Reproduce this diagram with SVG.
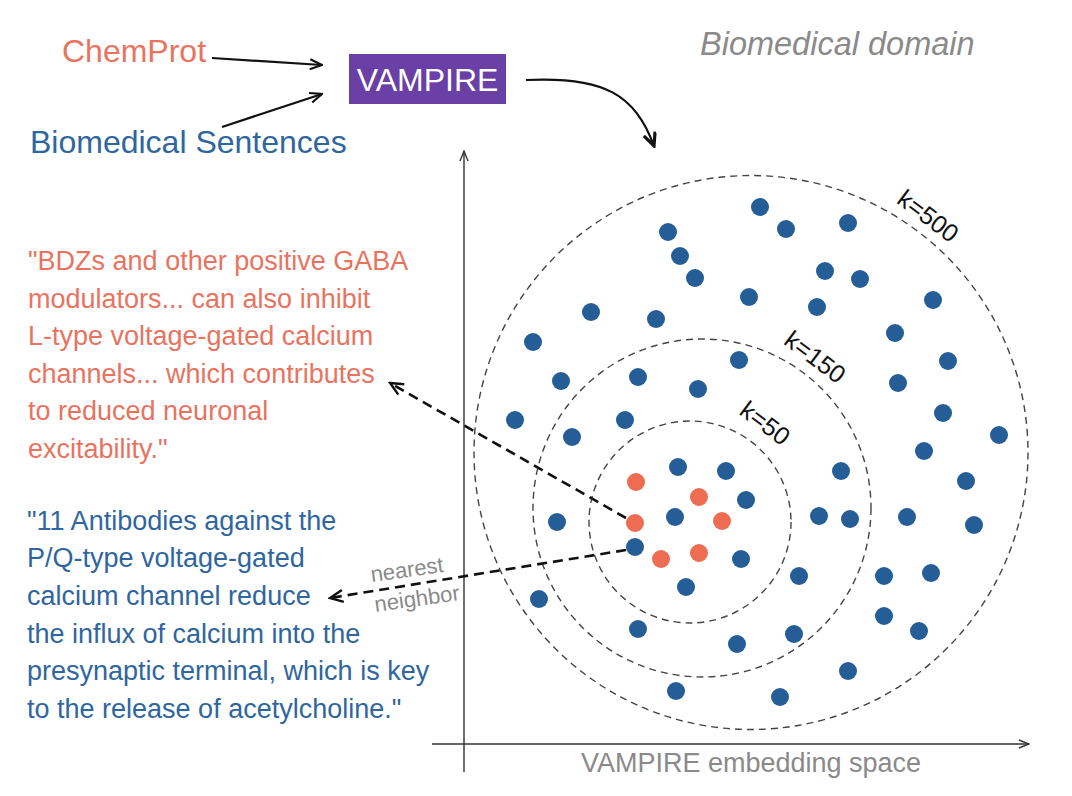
<svg xmlns="http://www.w3.org/2000/svg" width="1072" height="796" viewBox="0 0 1072 796">
<style>
text { font-family: "Liberation Sans", Arial, sans-serif; }
.orange { fill: #E8735F; font-size: 27px; }
.blue { fill: #2F66A0; font-size: 27px; }
.gray { fill: #8A8A8A; }
.bd { fill: #255D96; }
.rd { fill: #EE6C52; }
.ring { fill: none; stroke: #444; stroke-width: 1.4; stroke-dasharray: 7 5; }
.klab { fill: #111; font-size: 25px; }
.axis { fill: none; stroke: #333; stroke-width: 1.4; }
.solid { fill: none; stroke: #111; stroke-width: 2.2; }
.dash { fill: none; stroke: #111; stroke-width: 2.6; stroke-dasharray: 10 6; }
</style>
<defs>
<marker id="ah" viewBox="0 0 14 12" refX="13" refY="6" markerWidth="14" markerHeight="12" markerUnits="userSpaceOnUse" orient="auto">
<path d="M1,1 L13,6 L1,11" fill="none" stroke="#111" stroke-width="2.2" stroke-dasharray="none"/>
</marker>
<marker id="ahc" viewBox="0 0 16 14" refX="14" refY="7" markerWidth="16" markerHeight="14" markerUnits="userSpaceOnUse" orient="auto">
<path d="M1,1 L14,7 L1,13" fill="none" stroke="#111" stroke-width="3.2" stroke-dasharray="none"/>
</marker>
<marker id="ahd" viewBox="0 0 16 14" refX="14" refY="7" markerWidth="16" markerHeight="14" markerUnits="userSpaceOnUse" orient="auto">
<path d="M1,1 L14,7 L1,13" fill="none" stroke="#111" stroke-width="2.4" stroke-dasharray="none"/>
</marker>
<marker id="aha" viewBox="0 0 12 10" refX="11" refY="5" markerWidth="12" markerHeight="10" markerUnits="userSpaceOnUse" orient="auto">
<path d="M1,1 L11,5 L1,9" fill="none" stroke="#333" stroke-width="1.4" stroke-dasharray="none"/>
</marker>
</defs>
<rect width="1072" height="796" fill="#fff"/>

<g id="axes">
<line class="axis" x1="464" y1="772" x2="464" y2="151" marker-end="url(#aha)"/>
<line class="axis" x1="432" y1="744" x2="1029" y2="744" marker-end="url(#aha)"/>
<text class="gray" x="751" y="772" font-size="27" text-anchor="middle">VAMPIRE embedding space</text>
</g>

<g id="chemprot"><text x="62" y="62" font-size="32" fill="#E8735F">ChemProt</text></g>
<g id="biomedical-sentences"><text x="30" y="153" font-size="32" fill="#2F66A0">Biomedical Sentences</text></g>
<g id="vampire">
<rect x="349" y="54" width="157" height="50" fill="#6A3FA6"/>
<text x="427.5" y="91" font-size="32" fill="#fff" text-anchor="middle">VAMPIRE</text>
</g>
<g id="domain-label"><text class="gray" x="700" y="55" font-size="32.5" font-style="italic">Biomedical domain</text></g>

<g id="rings">
<circle class="ring" cx="751" cy="452.5" r="277"/>
<circle class="ring" cx="702" cy="508" r="169"/>
<circle class="ring" cx="690" cy="522" r="101"/>
<text class="klab" x="923" y="223" text-anchor="middle" transform="rotate(37 923 223)">k=500</text>
<text class="klab" x="810" y="364" text-anchor="middle" transform="rotate(37 810 364)">k=150</text>
<text class="klab" x="760" y="430" text-anchor="middle" transform="rotate(37 760 430)">k=50</text>
</g>

<g id="blue-points" class="bd">
<circle cx="760" cy="207" r="9"/><circle cx="668" cy="232" r="9"/><circle cx="786" cy="229" r="9"/><circle cx="848" cy="223" r="9"/>
<circle cx="680" cy="256" r="9"/><circle cx="695" cy="278" r="9"/><circle cx="825" cy="271" r="9"/><circle cx="860" cy="279" r="9"/>
<circle cx="749" cy="297" r="9"/><circle cx="591" cy="312" r="9"/><circle cx="656" cy="319" r="9"/><circle cx="817" cy="307" r="9"/>
<circle cx="933" cy="300" r="9"/><circle cx="533" cy="342" r="9"/><circle cx="895" cy="333" r="9"/><circle cx="739" cy="360" r="9"/>
<circle cx="948" cy="361" r="9"/><circle cx="561" cy="381" r="9"/><circle cx="638" cy="377" r="9"/><circle cx="698" cy="389" r="9"/>
<circle cx="898" cy="383" r="9"/><circle cx="515" cy="420" r="9"/><circle cx="625" cy="420" r="9"/><circle cx="943" cy="413" r="9"/>
<circle cx="572" cy="437" r="9"/><circle cx="999" cy="435" r="9"/><circle cx="924" cy="451" r="9"/><circle cx="678" cy="467" r="9"/>
<circle cx="726" cy="471" r="9"/><circle cx="841" cy="471" r="9"/><circle cx="966" cy="481" r="9"/><circle cx="746" cy="500" r="9"/>
<circle cx="675" cy="517" r="9"/><circle cx="557" cy="522" r="9"/><circle cx="819" cy="516" r="9"/><circle cx="850" cy="519" r="9"/>
<circle cx="907" cy="517" r="9"/><circle cx="974" cy="525" r="9"/><circle cx="635" cy="547" r="9"/><circle cx="741" cy="559" r="9"/>
<circle cx="799" cy="576" r="9"/><circle cx="884" cy="576" r="9"/><circle cx="931" cy="573" r="9"/><circle cx="686" cy="587" r="9"/>
<circle cx="539" cy="599" r="9"/><circle cx="884" cy="616" r="9"/><circle cx="919" cy="631" r="9"/><circle cx="638" cy="629" r="9"/>
<circle cx="794" cy="634" r="9"/><circle cx="737" cy="644" r="9"/><circle cx="848" cy="671" r="9"/><circle cx="676" cy="691" r="9"/>
<circle cx="780" cy="697" r="9"/>
</g>
<g id="red-points" class="rd">
<circle cx="636" cy="482" r="9"/><circle cx="699" cy="497" r="9"/><circle cx="722" cy="521" r="9"/>
<circle cx="635" cy="523" r="9"/><circle cx="661" cy="559" r="9"/><circle cx="699" cy="553" r="9"/>
</g>

<g id="chemprot-quote" class="orange">
<text x="28" y="270">"BDZs and other positive GABA</text>
<text x="28" y="307.5">modulators... can also inhibit</text>
<text x="28" y="345">L-type voltage-gated calcium</text>
<text x="28" y="382.5">channels... which contributes</text>
<text x="28" y="420">to reduced neuronal</text>
<text x="28" y="457.5">excitability."</text>
</g>
<g id="neighbor-quote" class="blue">
<text x="27" y="529.5">"11 Antibodies against the</text>
<text x="27" y="567.2">P/Q-type voltage-gated</text>
<text x="27" y="604.9">calcium channel reduce</text>
<text x="27" y="642.6">the influx of calcium into the</text>
<text x="27" y="680.3">presynaptic terminal, which is key</text>
<text x="27" y="718">to the release of acetylcholine."</text>
</g>
<g id="nn-label" class="gray" font-size="22">
<text x="408" y="577" text-anchor="middle" transform="rotate(-8 408 577)">nearest</text>
<text x="418" y="606" text-anchor="middle" transform="rotate(-8 418 606)">neighbor</text>
</g>

<g id="connectors">
<line class="solid" x1="212" y1="58" x2="322" y2="65" marker-end="url(#ah)"/>
<line class="solid" x1="222" y1="127" x2="322" y2="94" marker-end="url(#ah)"/>
<path class="solid" stroke-width="3.2" d="M526,80 C605,76 635,95 654,146" marker-end="url(#ahc)"/>
<line class="dash" x1="626" y1="518" x2="390" y2="383" marker-end="url(#ahd)"/>
<line class="dash" x1="626" y1="550" x2="330" y2="598" marker-end="url(#ahd)"/>
</g>
</svg>
